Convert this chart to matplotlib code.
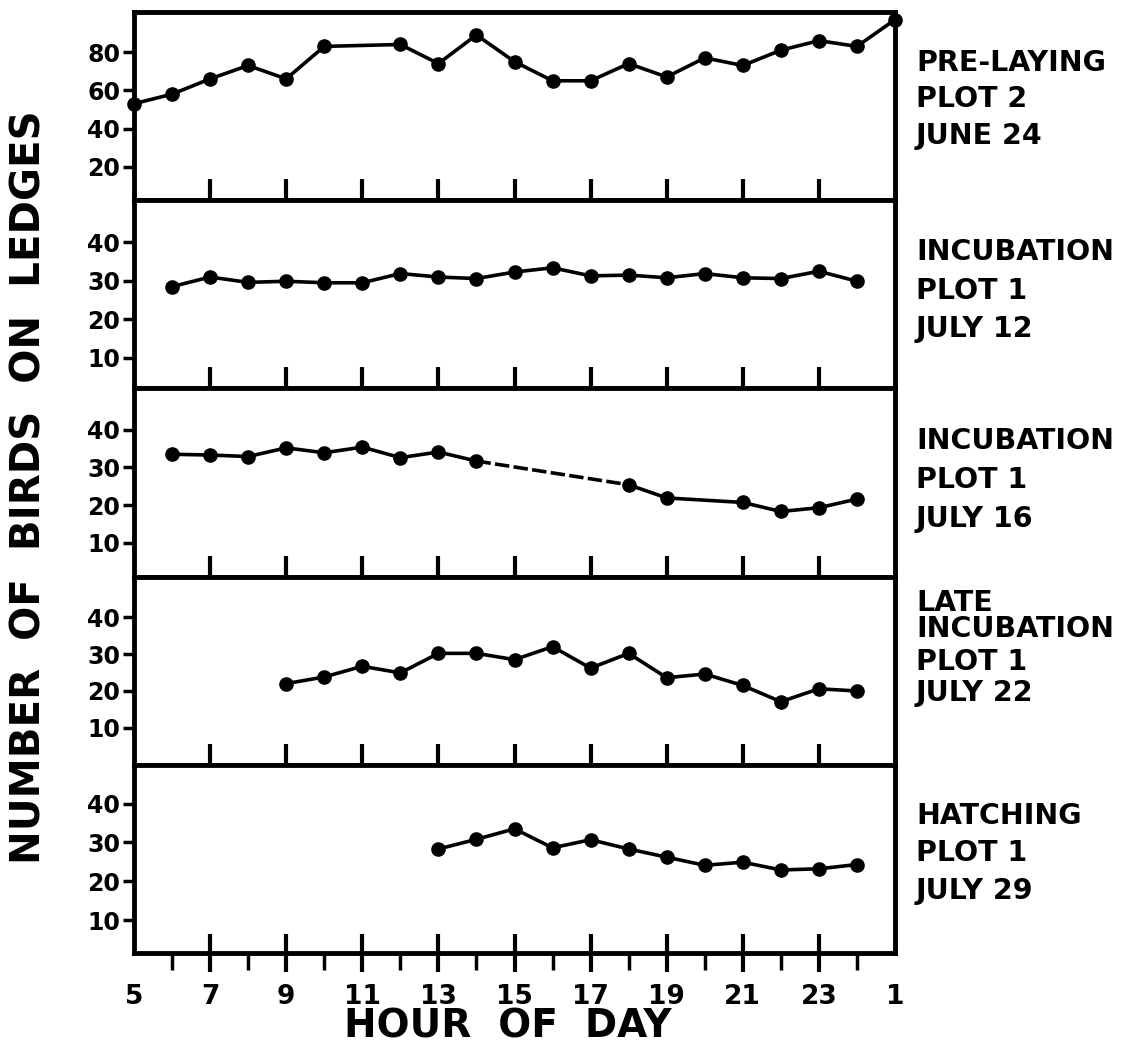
import matplotlib.pyplot as plt

plt.rcParams["font.family"] = ["DejaVu Sans"]
plt.rcParams["font.weight"] = "bold"

# hours past midnight of the first day (25 = 1 a.m. next day)
hours_prelay = [5, 6, 7, 8, 9, 10, 12, 13, 14, 15, 16, 17, 18, 19, 20, 21, 22, 23, 24, 25]
birds_prelay = [53, 58, 66, 73, 66, 83, 84, 74, 89, 75, 65, 65, 74, 67, 77, 73, 81, 86, 83, 97]

hours_jul12 = [6, 7, 8, 9, 10, 11, 12, 13, 14, 15, 16, 17, 18, 19, 20, 21, 22, 23, 24]
birds_jul12 = [28.5, 31.0, 29.6, 29.9, 29.5, 29.5, 31.9, 31.0, 30.6, 32.3, 33.4, 31.3,
               31.5, 30.8, 31.9, 30.8, 30.6, 32.5, 29.9]

hours_jul16 = [6, 7, 8, 9, 10, 11, 12, 13, 14, 18, 19, 21, 22, 23, 24]
birds_jul16 = [33.5, 33.3, 32.9, 35.2, 33.9, 35.4, 32.6, 34.1, 31.7, 25.4, 21.9, 20.7,
               18.3, 19.3, 21.6]

hours_jul22 = [9, 10, 11, 12, 13, 14, 15, 16, 17, 18, 19, 20, 21, 22, 23, 24]
birds_jul22 = [22.0, 23.8, 26.7, 24.9, 30.2, 30.2, 28.5, 32.0, 26.2, 30.2, 23.6, 24.6,
               21.5, 17.1, 20.6, 20.0]

hours_jul29 = [13, 14, 15, 16, 17, 18, 19, 20, 21, 22, 23, 24]
birds_jul29 = [28.3, 30.8, 33.5, 28.6, 30.7, 28.3, 26.2, 24.1, 24.9, 22.9, 23.2, 24.3]

panel_labels = [
    ["PRE-LAYING", "PLOT 2", "JUNE 24"],
    ["INCUBATION", "PLOT 1", "JULY 12"],
    ["INCUBATION", "PLOT 1", "JULY 16"],
    ["LATE", "INCUBATION", "PLOT 1", "JULY 22"],
    ["HATCHING", "PLOT 1", "JULY 29"],
]
label_rows_px = [
    [63, 99, 136],
    [252, 291, 329],
    [441, 480, 519],
    [603, 629, 662, 693],
    [816, 853, 891],
]
ylims = [(2.5, 101), (2, 51), (1, 51), (0, 51), (1.5, 50)]
yticks = [[20, 40, 60, 80], [10, 20, 30, 40], [10, 20, 30, 40], [10, 20, 30, 40],
          [10, 20, 30, 40]]
hour_ticks = [5, 7, 9, 11, 13, 15, 17, 19, 21, 23, 25]
hour_labels = ["5", "7", "9", "11", "13", "15", "17", "19", "21", "23", "1"]
inner_ticks = [7, 9, 11, 13, 15, 17, 19, 21, 23]
minor_hours = [6, 8, 10, 12, 14, 16, 18, 20, 22, 24]

W, H = 1146, 1061
fig = plt.figure(figsize=(W / 100, H / 100), dpi=100)
gs = fig.add_gridspec(5, 1, left=134 / W, right=895 / W, top=1 - 12 / H,
                      bottom=1 - 953 / H, hspace=0)
axes = [fig.add_subplot(gs[i]) for i in range(5)]

series = [(hours_prelay, birds_prelay), (hours_jul12, birds_jul12),
          (hours_jul16, birds_jul16), (hours_jul22, birds_jul22),
          (hours_jul29, birds_jul29)]

line_kw = dict(color="black", lw=2.6, solid_capstyle="round", clip_on=False)
mark_kw = dict(color="black", marker="o", ms=9.5, ls="none", clip_on=False, zorder=5)

for i, ax in enumerate(axes):
    hrs, vals = series[i]
    if i == 2:
        # gap in observations 14-18 h drawn dashed
        ax.plot(hrs[:9], vals[:9], **line_kw)
        ax.plot(hrs[9:], vals[9:], **line_kw)
        ax.plot(hrs[8:10], vals[8:10], color="black", lw=2.6, ls=(0, (4, 1.2)))
    else:
        ax.plot(hrs, vals, **line_kw)
    ax.plot(hrs, vals, **mark_kw)

    ax.set_xlim(5, 25)
    ax.set_ylim(*ylims[i])
    for sp in ax.spines.values():
        sp.set_linewidth(3.5)
    ax.set_yticks(yticks[i])
    ax.tick_params(axis="y", direction="out", length=8, width=2.5, labelsize=17,
                   pad=2)

    if i < 4:
        ax.set_xticks(inner_ticks)
        ax.tick_params(axis="x", direction="in", length=15, width=3,
                       labelbottom=False)
    else:
        ax.set_xticks(hour_ticks)
        ax.set_xticklabels(hour_labels)
        ax.set_xticks(minor_hours, minor=True)
        ax.tick_params(axis="x", which="major", direction="inout", length=28,
                       width=3, labelsize=19, pad=8)
        ax.tick_params(axis="x", which="minor", direction="out", length=12,
                       width=2.5)
        ticks = ax.xaxis.get_major_ticks()
        ticks[0].tick1line.set_visible(False)
        ticks[-1].tick1line.set_visible(False)

    for text, ypx in zip(panel_labels[i], label_rows_px[i]):
        fig.text(916 / W, 1 - ypx / H, text, fontsize=20.5, va="center", ha="left")

fig.text(30 / W, 1 - 487 / H, "NUMBER  OF  BIRDS  ON  LEDGES", rotation=90,
         fontsize=29, va="center", ha="center")
fig.text(508 / W, 1 - 1027 / H, "HOUR  OF  DAY", fontsize=28, va="center",
         ha="center")

fig.savefig("out.png", dpi=100, facecolor="white")
